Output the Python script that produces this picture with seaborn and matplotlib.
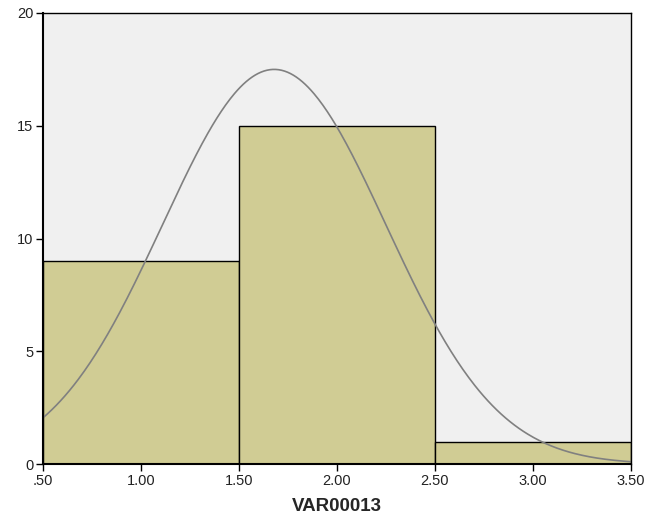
import matplotlib
matplotlib.use("Agg")
import matplotlib.pyplot as plt
import seaborn as sns
import numpy as np
import pandas as pd

bin_edges = [0.5, 1.5, 2.5, 3.5]
bin_centers = [1.0, 2.0, 3.0]
counts = [9, 15, 1]
curve_mean = 1.68
curve_sd = 0.57
x_ticks = [0.5, 1.0, 1.5, 2.0, 2.5, 3.0, 3.5]
x_tick_labels = [".50", "1.00", "1.50", "2.00", "2.50", "3.00", "3.50"]
y_ticks = [0, 5, 10, 15, 20]

sns.set_style("white")
plt.rcParams['font.family'] = ['Liberation Sans', 'DejaVu Sans']

fig = plt.figure(figsize=(6.51, 5.18), dpi=100)
ax = fig.add_axes([0.066, 0.104, 0.903, 0.871])
ax.set_facecolor("#f0f0f0")

df = pd.DataFrame({"VAR00013": bin_centers, "count": counts})
sns.histplot(data=df, x="VAR00013", weights="count", bins=bin_edges, ax=ax,
             color="#d0cc94", alpha=1.0, edgecolor="black", linewidth=1.0)

n = sum(counts)
width = bin_edges[1] - bin_edges[0]
xs = np.linspace(bin_edges[0], bin_edges[-1], 400)
ys = n * width / (curve_sd * np.sqrt(2 * np.pi)) * np.exp(-0.5 * ((xs - curve_mean) / curve_sd) ** 2)
sns.lineplot(x=xs, y=ys, ax=ax, color="#808080", linewidth=1.2)

ax.set_xlim(bin_edges[0], bin_edges[-1])
ax.set_ylim(0, 20)
ax.set_xticks(x_ticks)
ax.set_xticklabels(x_tick_labels)
ax.set_yticks(y_ticks)
ax.tick_params(axis="both", direction="out", length=5, width=1, color="black",
               labelsize=10.5, labelcolor="#222222", pad=2, left=True, bottom=True)
for s in ax.spines.values():
    s.set_color("black")
    s.set_linewidth(1.0)
ax.spines["left"].set_linewidth(1.5)
ax.spines["bottom"].set_linewidth(1.5)
ax.set_xlabel("VAR00013", fontsize=13.5, fontweight="bold", labelpad=7)
ax.set_ylabel("")

fig.savefig("out.png", dpi=100)
